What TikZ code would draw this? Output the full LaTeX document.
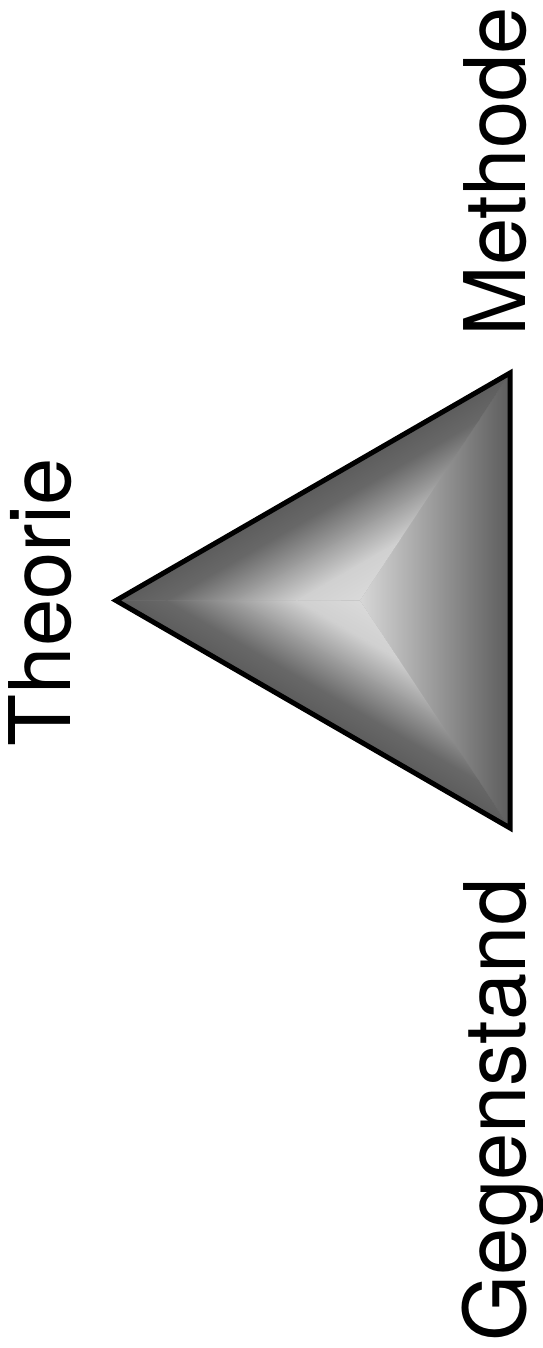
\documentclass[tikz,border=0pt]{standalone}
\usepackage{fontspec}
\setmainfont{TeX Gyre Heros}
\definecolor{gA}{RGB}{92,92,92}
\definecolor{gB}{RGB}{104,104,104}
\definecolor{gC}{RGB}{128,128,128}
\definecolor{gD}{RGB}{160,160,160}
\definecolor{gE}{RGB}{168,168,168}
\definecolor{gF}{RGB}{208,208,208}
\definecolor{gG}{RGB}{216,216,216}
\definecolor{gH}{RGB}{218,218,218}
\definecolor{gMid}{RGB}{150,150,150}
\begin{document}
\begin{tikzpicture}[x=1pt,y=-1pt,
  lbl/.style={rotate=90,anchor=base,inner sep=0pt,font=\fontsize{85}{90}\selectfont},
  edge/.style={line width=5pt,line join=miter}]
\useasboundingbox (0,0) rectangle (542,1348);
\coordinate (C) at (378.7,600.5);
\coordinate (P) at (360,600.5);
\coordinate (T) at (510,373);
\coordinate (B) at (510,828);
\coordinate (L) at (116,600.5);
% base fill
\fill[gMid] (L) -- (T) -- (B) -- cycle;
% right facet
\begin{scope}
  \clip (360,600.5) -- (510.5,372) -- (510.5,829) -- cycle;
  \shade[left color=gC,right color=gA] (465.5,360) rectangle (511,840);
  \shade[left color=gE,right color=gC] (417.5,360) rectangle (466,840);
  \shade[left color=gG,right color=gE] (359,360) rectangle (418,840);
\end{scope}
% upper-left and lower-left facets (drawn in the frame of the right edge)
\foreach \a/\py in {120/584.31,240/616.69}{
  \begin{scope}[transform canvas={rotate around={\a:(378.7,600.5)}}]
    \clip (388.05,\py) -- (510.5,372) -- (510.5,829) -- cycle;
    \shade[left color=gB,right color=gA] (484.5,360) rectangle (511,840);
    \shade[left color=gD,right color=gB] (449.5,360) rectangle (485,840);
    \shade[left color=gF,right color=gD] (419.5,360) rectangle (450,840);
    \shade[left color=gH,right color=gF] (387,360) rectangle (420,840);
  \end{scope}
}
\draw[edge] (L) -- (T) -- (B) -- cycle;
\node[lbl] (th) at (70,602) {Theorie};
\node[lbl] (me) at (525,172) {Methode};
\node[lbl] (ge) at (525,1110) {Gegenstand};
\end{tikzpicture}
\end{document}
